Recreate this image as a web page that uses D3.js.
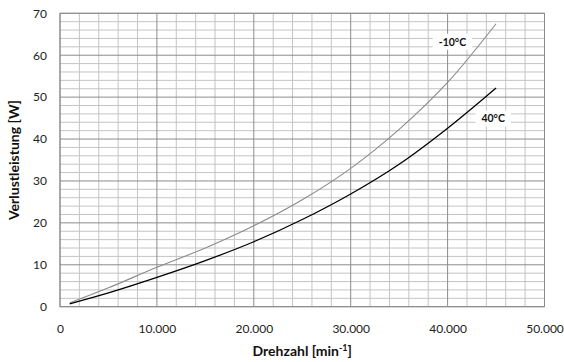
<!DOCTYPE html>
<html><head><meta charset="utf-8">
<script src="https://cdn.jsdelivr.net/npm/d3@7"></script>
<style>body{margin:0;background:#fff}svg{display:block}text{font-family:Lato,"Open Sans",sans-serif}</style>
</head><body><svg id="c" width="564" height="362"></svg>
<script>
const rpm = [1000,5000,10000,15000,20000,25000,30000,35000,40000,45000];
const cold = [0.9,4.5,9.4,14.0,19.3,25.5,33.0,42.3,53.5,67.5];
const warm = [0.7,3.3,7.0,11.0,15.5,20.8,26.9,34.0,42.6,52.2];
const xTicks = [0,10000,20000,30000,40000,50000];
const yTicks = [0,10,20,30,40,50,60,70];
const seriesNames = ["-10°C","40°C"];

const svg = d3.select("#c");
const x = d3.scaleLinear().domain([0,50000]).range([60,544.5]);
const y = d3.scaleLinear().domain([0,70]).range([306.7,13.3]);
const fmt = v => v===0 ? "0" : d3.format(",")(v).replace(/,/g,".");

const g = svg.append("g");
d3.range(0,50001,2000).forEach(v=>{ if(v%10000) g.append("line").attr("x1",x(v)).attr("x2",x(v)).attr("y1",y(0)).attr("y2",y(70)).attr("stroke","#c4c4c4").attr("stroke-width",1);});
d3.range(0,71,2).forEach(v=>{ if(v%10) g.append("line").attr("x1",x(0)).attr("x2",x(50000)).attr("y1",y(v)).attr("y2",y(v)).attr("stroke","#c4c4c4").attr("stroke-width",1);});
xTicks.forEach(v=>g.append("line").attr("x1",x(v)).attr("x2",x(v)).attr("y1",y(0)).attr("y2",y(70)).attr("stroke","#8c8c8c"));
yTicks.forEach(v=>g.append("line").attr("x1",x(0)).attr("x2",x(50000)).attr("y1",y(v)).attr("y2",y(v)).attr("stroke","#8c8c8c"));
g.append("rect").attr("x",x(0)).attr("y",y(70)).attr("width",x(50000)-x(0)).attr("height",y(0)-y(70)).attr("fill","none").attr("stroke","#8c8c8c");

const xa = svg.append("g").attr("transform",`translate(0,${y(0)})`).call(d3.axisBottom(x).tickValues(xTicks).tickFormat(fmt).tickSize(0).tickPadding(18));
const ya = svg.append("g").attr("transform",`translate(${x(0)},0)`).call(d3.axisLeft(y).tickValues(yTicks).tickSize(0).tickPadding(13));
[xa,ya].forEach(a=>{a.select(".domain").remove();a.selectAll("text").attr("font-family","Lato, sans-serif").attr("font-size",12).attr("fill","#222");});

const line = d3.line().x((d,i)=>x(rpm[i])).y(d=>y(d)).curve(d3.curveCatmullRom.alpha(0.5));
svg.append("path").datum(cold).attr("d",line).attr("fill","none").attr("stroke","#8a8a8a").attr("stroke-width",1.1);
svg.append("path").datum(warm).attr("d",line).attr("fill","none").attr("stroke","#000").attr("stroke-width",1.3);

function lab(t,cx,cy){
  const gg = svg.append("g");
  const tx = gg.append("text").attr("x",cx).attr("y",cy).attr("text-anchor","middle").attr("dominant-baseline","middle").attr("font-size",10.5).attr("font-weight","bold").attr("fill","#111").text(t);
  const b = tx.node().getBBox();
  gg.insert("rect","text").attr("x",b.x-6).attr("y",b.y-2).attr("width",b.width+12).attr("height",b.height+4).attr("fill","#fff");
}
lab(seriesNames[0],x(40500),y(62.9));
lab(seriesNames[1],x(44700),y(44.6));

svg.append("text").attr("transform",`translate(19,${(y(0)+y(70))/2}) rotate(-90)`).attr("text-anchor","middle").attr("font-size",14).attr("font-weight","bold").attr("fill","#111").text("Verlustleistung [W]");
const xl = svg.append("text").attr("x",(x(0)+x(50000))/2).attr("y",356).attr("text-anchor","middle").attr("font-size",14).attr("font-weight","bold").attr("fill","#111");
xl.append("tspan").text("Drehzahl [min");
xl.append("tspan").attr("dy",-5).attr("font-size",9).text("-1");
xl.append("tspan").attr("dy",5).text("]");
</script></body></html>
